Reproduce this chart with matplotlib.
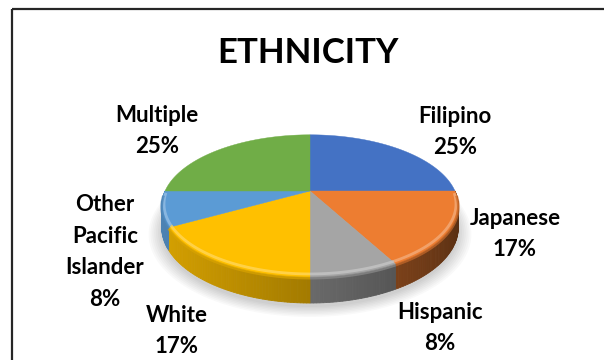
import numpy as np
import matplotlib.pyplot as plt
from matplotlib.patches import Polygon, Rectangle
from matplotlib.colors import to_rgb

plt.rcParams['font.family'] = ['Lato', 'DejaVu Sans']

title = "ETHNICITY"
categories = ["Filipino", "Japanese", "Hispanic", "White", "Other\nPacific\nIslander", "Multiple"]
shares = [25, 17, 8, 17, 8, 25]
colors = ["#4472C4", "#ED7D31", "#A5A5A5", "#FFC000", "#5B9BD5", "#70AD47"]

# where each data label block is centred (pixels)
label_xy = [(455, 132), (515, 234), (440, 328), (177, 331), (105, 252), (157, 131)]

# 3d pie projection settings (pixels)
cx, cy = 310, 191
R = 145          # horizontal radius
C = 68           # vertical radius before perspective
P = 0.21         # perspective strength
H = 20.5         # thickness


def proj(t, depth=0.0, r=1.0):
    X = r * np.cos(t)
    Y = r * np.sin(t)
    s = 1.0 / (1.0 + P * Y)
    return cx + R * X * s, cy - C * Y * s + H * depth * s


def shade(col, f):
    return tuple(np.clip(np.array(to_rgb(col)) * f, 0, 1))


def mix(col, f):
    c = np.array(to_rgb(col))
    return tuple(c + (1 - c) * f)


fig = plt.figure(figsize=(6.04, 3.60), dpi=100)
ax = fig.add_axes([0, 0, 1, 1])
ax.set_xlim(0, 604)
ax.set_ylim(360, 0)
ax.axis("off")

# chart frame
ax.add_patch(Rectangle((11.5, 8.5), 700, 400, fill=False, ec="#262626", lw=1.6))

# soft shadow under the pie
for k in range(8):
    tt = np.linspace(0, 2 * np.pi, 200)
    sx, sy = proj(tt, depth=1.0, r=1.0 + 0.012 * k)
    ax.fill(sx, sy + 4, color="#000000", alpha=0.025, lw=0)

fracs = np.array(shares) / sum(shares)
bounds = np.pi / 2 - 2 * np.pi * np.concatenate([[0], np.cumsum(fracs)])

# sides of the front half, drawn as thin shaded strips
for i, col in enumerate(colors):
    a0, a1 = bounds[i], bounds[i + 1]
    lo, hi = max(min(a0, a1), -np.pi), min(max(a0, a1), 0.0)
    lo2, hi2 = max(min(a0, a1), -3 * np.pi), min(max(a0, a1), -2 * np.pi)
    for lo_, hi_ in [(lo, hi), (lo2 + 2 * np.pi, hi2 + 2 * np.pi)]:
        if hi_ <= lo_:
            continue
        ts = np.linspace(lo_, hi_, max(int(np.degrees(hi_ - lo_)), 2) + 1)
        for t0, t1 in zip(ts[:-1], ts[1:]):
            tm = 0.5 * (t0 + t1)
            f = 0.60 + 0.24 * (-np.cos(tm)) - 0.04 * np.sin(tm)
            x0, y0 = proj(t0)
            x1, y1 = proj(t1)
            x2, y2 = proj(t1, 1.0)
            x3, y3 = proj(t0, 1.0)
            c = shade(col, f)
            ax.add_patch(Polygon([(x0, y0), (x1, y1), (x2, y2), (x3, y3)],
                                 closed=True, fc=c, ec=c, lw=0.6))

# top faces
for i, col in enumerate(colors):
    ts = np.linspace(bounds[i], bounds[i + 1], 120)
    xs, ys = proj(ts)
    pts = [(cx, cy)] + list(zip(xs, ys))
    ax.add_patch(Polygon(pts, closed=True, fc=col, ec=col, lw=0.3))

# bevel highlight along the front rim
for i, col in enumerate(colors):
    ts = np.linspace(bounds[i], bounds[i + 1], 120)
    ts = ts[np.sin(ts) < -0.05]
    if len(ts) < 2:
        continue
    xs, ys = proj(ts, r=0.985)
    ax.plot(xs, ys - 1.5, color=mix(col, 0.35), lw=2.0, alpha=0.8,
            solid_capstyle="butt")
    xs, ys = proj(ts, depth=0.0)
    ax.plot(xs, ys + 1.0, color=shade(col, 0.85), lw=2.0, alpha=0.7,
            solid_capstyle="butt")

ax.text(308, 53, title, ha="center", va="center", fontsize=25,
        fontweight="bold", color="#000000")

for name, v, (lx, ly) in zip(categories, shares, label_xy):
    ax.text(lx, ly, f"{name}\n{v}%", ha="center", va="center", fontsize=16,
            fontweight="bold", color="#000000", linespacing=1.62)

fig.savefig("out.png", dpi=100)
